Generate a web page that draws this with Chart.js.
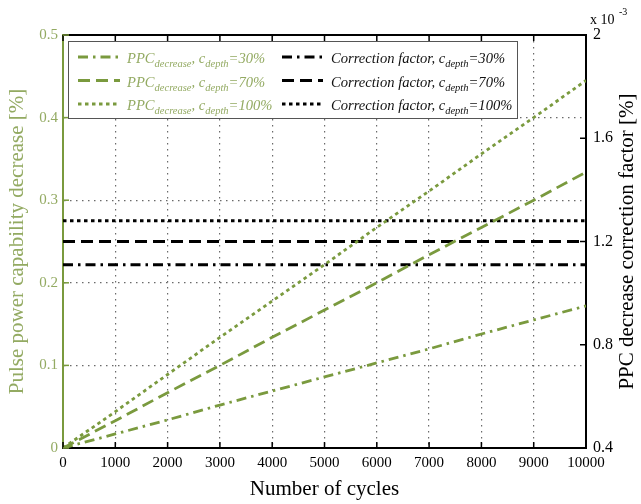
<!DOCTYPE html>
<html>
<head>
<meta charset="utf-8">
<script src="https://cdn.jsdelivr.net/npm/chart.js@4.4.1/dist/chart.umd.min.js"></script>
<style>
  html, body { margin: 0; padding: 0; background: #fff; }
  #wrap { width: 641px; height: 504px; position: relative; }
</style>
</head>
<body>
<div id="wrap"><canvas id="chart"></canvas></div>
<script>
// values
const cycles = [0, 1000, 2000, 3000, 4000, 5000, 6000, 7000, 8000, 9000, 10000];
const ppc30 = [0, 0.017, 0.034, 0.052, 0.069, 0.086, 0.103, 0.120, 0.138, 0.155, 0.172];
const ppc70 = [0, 0.033, 0.067, 0.100, 0.134, 0.167, 0.200, 0.234, 0.267, 0.300, 0.334];
const ppc100 = [0, 0.044, 0.089, 0.134, 0.178, 0.222, 0.267, 0.311, 0.356, 0.400, 0.445];
const corr30 = [1.11, 1.11];
const corr70 = [1.2, 1.2];
const corr100 = [1.28, 1.28];
const corrX = [0, 10000];

const green = "#7a9a3e";
const greenText = "#93aa62";
const serif = "'Liberation Serif', 'DejaVu Serif', serif";

const dashDot = [10, 5, 2.5, 5];
const dashed = [12, 6];
const dotted = [3.5, 3.5];

const toPoints = (xs, ys) => xs.map((x, i) => ({ x: x, y: ys[i] }));

const legendRows = [
  { label: "=30%", dash: dashDot },
  { label: "=70%", dash: dashed },
  { label: "=100%", dash: dotted },
];

function richText(ctx, x, y, parts, color) {
  ctx.fillStyle = color;
  ctx.textBaseline = "alphabetic";
  ctx.textAlign = "left";
  parts.forEach((p) => {
    ctx.font = p.sub ? "italic 10.5px " + serif : "italic 14.6px " + serif;
    ctx.fillText(p.t, x, p.sub ? y + 4 : y);
    x += ctx.measureText(p.t).width;
  });
}

const extras = {
  id: "extras",
  afterDraw(chart) {
    const ctx = chart.ctx;
    const area = chart.chartArea;
    const sx = chart.scales.x;
    const sy = chart.scales.y;
    const sy2 = chart.scales.y2;
    ctx.save();

    // top border
    ctx.strokeStyle = "#000";
    ctx.lineWidth = 2;
    ctx.beginPath();
    ctx.moveTo(area.left, area.top);
    ctx.lineTo(area.right + 1, area.top);
    ctx.stroke();

    // inward tick marks
    ctx.lineWidth = 1.5;
    sx.ticks.forEach((t) => {
      const px = sx.getPixelForValue(t.value);
      ctx.beginPath();
      ctx.moveTo(px, area.bottom);
      ctx.lineTo(px, area.bottom - 6);
      ctx.moveTo(px, area.top);
      ctx.lineTo(px, area.top + 6);
      ctx.stroke();
    });
    sy2.ticks.forEach((t) => {
      const py = sy2.getPixelForValue(t.value);
      ctx.beginPath();
      ctx.moveTo(area.right, py);
      ctx.lineTo(area.right - 6, py);
      ctx.stroke();
    });
    ctx.strokeStyle = green;
    sy.ticks.forEach((t) => {
      const py = sy.getPixelForValue(t.value);
      ctx.beginPath();
      ctx.moveTo(area.left, py);
      ctx.lineTo(area.left + 6, py);
      ctx.stroke();
    });

    // legend box
    const bx = 68, by = 41, bw = 449, bh = 77;
    ctx.fillStyle = "#fff";
    ctx.fillRect(bx, by, bw, bh);
    ctx.strokeStyle = "#555";
    ctx.lineWidth = 1;
    ctx.setLineDash([]);
    ctx.strokeRect(bx + 0.5, by + 0.5, bw, bh);

    legendRows.forEach((row, i) => {
      const y = by + 16 + i * 23.5;
      ctx.setLineDash(row.dash);
      ctx.lineWidth = 3;
      ctx.strokeStyle = green;
      ctx.beginPath();
      ctx.moveTo(78, y);
      ctx.lineTo(120, y);
      ctx.stroke();
      ctx.strokeStyle = "#000";
      ctx.beginPath();
      ctx.moveTo(282, y);
      ctx.lineTo(323, y);
      ctx.stroke();
      ctx.setLineDash([]);
      richText(ctx, 127, y + 6, [
        { t: "PPC" }, { t: "decrease", sub: true }, { t: ", c" },
        { t: "depth", sub: true }, { t: row.label },
      ], greenText);
      richText(ctx, 331, y + 6, [
        { t: "Correction factor, c" }, { t: "depth", sub: true }, { t: row.label },
      ], "#111");
    });

    // exponent label of right axis
    ctx.fillStyle = "#000";
    ctx.textAlign = "left";
    ctx.textBaseline = "alphabetic";
    ctx.font = "14px " + serif;
    ctx.fillText("x 10", 590, 24);
    ctx.font = "10px " + serif;
    ctx.fillText("-3", 619, 15);

    // right axis title (reads bottom to top)
    ctx.translate(627, (area.top + area.bottom) / 2);
    ctx.rotate(-Math.PI / 2);
    ctx.textAlign = "center";
    ctx.textBaseline = "middle";
    ctx.font = "21px " + serif;
    ctx.fillText("PPC decrease correction factor [%]", 0, 0);
    ctx.restore();
  },
};

const lineSet = (label, data, color, dash, axis, width) => ({
  label: label,
  data: data,
  yAxisID: axis,
  borderColor: color,
  backgroundColor: color,
  borderDash: dash,
  borderWidth: width,
  pointRadius: 0,
  fill: false,
  tension: 0,
});

new Chart(document.getElementById("chart"), {
  type: "line",
  data: {
    datasets: [
      lineSet("PPC 30%", toPoints(cycles, ppc30), green, dashDot, "y", 2.8),
      lineSet("PPC 70%", toPoints(cycles, ppc70), green, dashed, "y", 2.8),
      lineSet("PPC 100%", toPoints(cycles, ppc100), green, dotted, "y", 2.8),
      lineSet("Correction 30%", toPoints(corrX, corr30), "#000", dashDot, "y2", 3),
      lineSet("Correction 70%", toPoints(corrX, corr70), "#000", dashed, "y2", 3),
      lineSet("Correction 100%", toPoints(corrX, corr100), "#000", dotted, "y2", 3),
    ],
  },
  options: {
    responsive: true,
    maintainAspectRatio: false,
    animation: false,
    layout: { padding: { top: 35, left: 0, right: 0, bottom: 0 } },
    plugins: { legend: { display: false }, tooltip: { enabled: false } },
    scales: {
      x: {
        type: "linear",
        min: 0,
        max: 10000,
        ticks: {
          stepSize: 1000,
          autoSkip: false,
          maxRotation: 0,
          color: "#000",
          padding: 6,
          font: { family: serif, size: 15 },
          callback: (v) => String(v),
        },
        grid: { color: "#6a6a6a", lineWidth: 1.2, drawTicks: false },
        border: { display: true, color: "#000", width: 2, dash: [1.5, 4.5] },
        title: {
          display: true,
          text: "Number of cycles",
          color: "#000",
          font: { family: serif, size: 21 },
          padding: { top: 0, bottom: 2 },
        },
        afterFit: (s) => { s.height = 56; },
      },
      y: {
        position: "left",
        min: 0,
        max: 0.5,
        ticks: {
          stepSize: 0.1,
          color: greenText,
          padding: 5,
          font: { family: serif, size: 15 },
        },
        grid: { color: "#6a6a6a", lineWidth: 1.2, drawTicks: false },
        border: { display: true, color: green, width: 2, dash: [1.5, 4.5] },
        title: {
          display: true,
          text: "Pulse power capability decrease [%]",
          color: greenText,
          font: { family: serif, size: 21 },
          padding: { top: 5, bottom: 0 },
        },
        afterFit: (s) => { s.width = 63; },
      },
      y2: {
        position: "right",
        min: 0.4,
        max: 2,
        ticks: {
          stepSize: 0.4,
          color: "#000",
          padding: 7,
          font: { family: serif, size: 16 },
          callback: (v) => String(Number(v.toFixed(1))),
        },
        grid: { display: false, drawTicks: false },
        border: { display: true, color: "#000", width: 2 },
        afterFit: (s) => { s.width = 55; },
      },
    },
  },
  plugins: [extras],
});
</script>
</body>
</html>
